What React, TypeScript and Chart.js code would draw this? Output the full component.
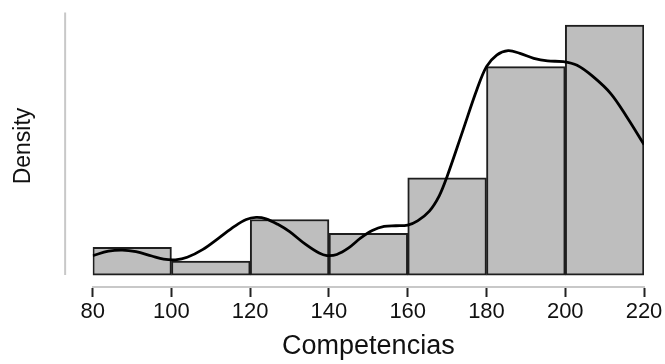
import React, { useEffect, useRef } from "react";
import { Chart, registerables } from "chart.js";

Chart.register(...registerables);

// Histogram bins (centers) and densities
const binCenters = [90, 110, 130, 150, 170, 190, 210];
const binDensity = [0.002, 0.001, 0.004, 0.003, 0.007, 0.015, 0.018];

// Kernel density curve
const densityX = [80, 84, 87.5, 91, 95, 98, 101, 104, 108, 112, 116, 119, 121.5, 124, 127, 130, 134, 137.5, 139.5, 142, 145, 148, 151, 154, 157, 160, 162.5, 165.5, 168, 170, 174, 177.5, 180, 182.6, 185.5, 188.5, 192, 195.5, 199.5, 203, 207, 211.5, 215.6, 220];
const densityY = [0.0014, 0.00172, 0.0018, 0.00168, 0.00137, 0.00115, 0.0011, 0.00128, 0.00185, 0.00266, 0.0035, 0.004, 0.00415, 0.00405, 0.00365, 0.00312, 0.00222, 0.00158, 0.0014, 0.00148, 0.00195, 0.00265, 0.0032, 0.0035, 0.00355, 0.0036, 0.0039, 0.0046, 0.0057, 0.0071, 0.0104, 0.0133, 0.015, 0.01584, 0.01615, 0.01596, 0.0156, 0.01541, 0.01536, 0.0151, 0.0143, 0.01308, 0.0114, 0.0094];

// Axis ranges / tick labels
const xTicks = [80, 100, 120, 140, 160, 180, 200, 220];
const X_MIN = 80;
const X_MAX = 220;
const Y_MIN = -0.00086;
const Y_MAX = 0.01944;
const Y_AXIS_TOP = 0.0189;
const Y_AXIS_AT = 73;
const xTitle = "Competencias";
const yTitle = "Density";

const FONT = "'Liberation Sans', Arial, sans-serif";

const yAxisLinePlugin = {
  id: "yAxisLine",
  beforeDatasetsDraw(chart: any) {
    const { ctx, scales } = chart;
    const x = scales.x.getPixelForValue(Y_AXIS_AT);
    const y0 = scales.y.getPixelForValue(0);
    const y1 = scales.y.getPixelForValue(Y_AXIS_TOP);
    ctx.save();
    ctx.strokeStyle = "#c8c8c8";
    ctx.lineWidth = 2;
    ctx.beginPath();
    ctx.moveTo(x, y0);
    ctx.lineTo(x, y1);
    ctx.stroke();
    ctx.restore();
  },
};

export default function App() {
  const ref = useRef<HTMLCanvasElement | null>(null);

  useEffect(() => {
    if (!ref.current) return;
    const chart = new Chart(ref.current, {
      type: "bar",
      data: {
        datasets: [
          {
            type: "line",
            data: densityX.map((x, i) => ({ x, y: densityY[i] })),
            borderColor: "#000000",
            borderWidth: 2.8,
            pointRadius: 0,
            fill: false,
            tension: 0.35,
            order: 0,
          } as any,
          {
            type: "bar",
            data: binCenters.map((x, i) => ({ x, y: binDensity[i] })),
            backgroundColor: "#bebebe",
            borderColor: "#1e1e1e",
            borderWidth: 2,
            borderSkipped: false,
            barPercentage: 1,
            categoryPercentage: 1,
            order: 1,
          } as any,
        ],
      },
      options: {
        animation: false,
        responsive: false,
        maintainAspectRatio: false,
        layout: { padding: { left: 12.5, right: 21, top: 5, bottom: 3.5 } },
        plugins: { legend: { display: false }, tooltip: { enabled: false } },
        scales: {
          x: {
            type: "linear",
            min: X_MIN,
            max: X_MAX,
            offset: false,
            afterBuildTicks: (s: any) => {
              s.ticks = xTicks.map((v) => ({ value: v }));
            },
            afterFit: (s: any) => {
              s.height = 73.5;
            },
            grid: {
              display: true,
              offset: false,
              drawOnChartArea: false,
              drawTicks: true,
              tickLength: 10,
              tickColor: "#222222",
              tickWidth: 2,
            },
            border: { display: true, color: "#c8c8c8", width: 2 },
            ticks: {
              autoSkip: false,
              maxRotation: 0,
              padding: 2,
              color: "#111111",
              font: { family: FONT, size: 22 },
            },
            title: {
              display: true,
              text: xTitle,
              color: "#111111",
              padding: { top: 0, bottom: 0 },
              font: { family: FONT, size: 27, lineHeight: 1 },
            },
          },
          y: {
            type: "linear",
            min: Y_MIN,
            max: Y_MAX,
            afterFit: (s: any) => {
              s.width = 80.2;
            },
            grid: { display: false },
            border: { display: false },
            ticks: { display: false },
            title: {
              display: true,
              text: yTitle,
              color: "#111111",
              padding: { top: 0, bottom: 0 },
              font: { family: FONT, size: 23, lineHeight: 1 },
            },
          },
        },
      },
      plugins: [yAxisLinePlugin],
    });
    return () => chart.destroy();
  }, []);

  return (
    <div style={{ position: "fixed", left: 0, top: 0, width: 665, height: 364, background: "#fff" }}>
      <canvas ref={ref} width={665} height={364} />
    </div>
  );
}
